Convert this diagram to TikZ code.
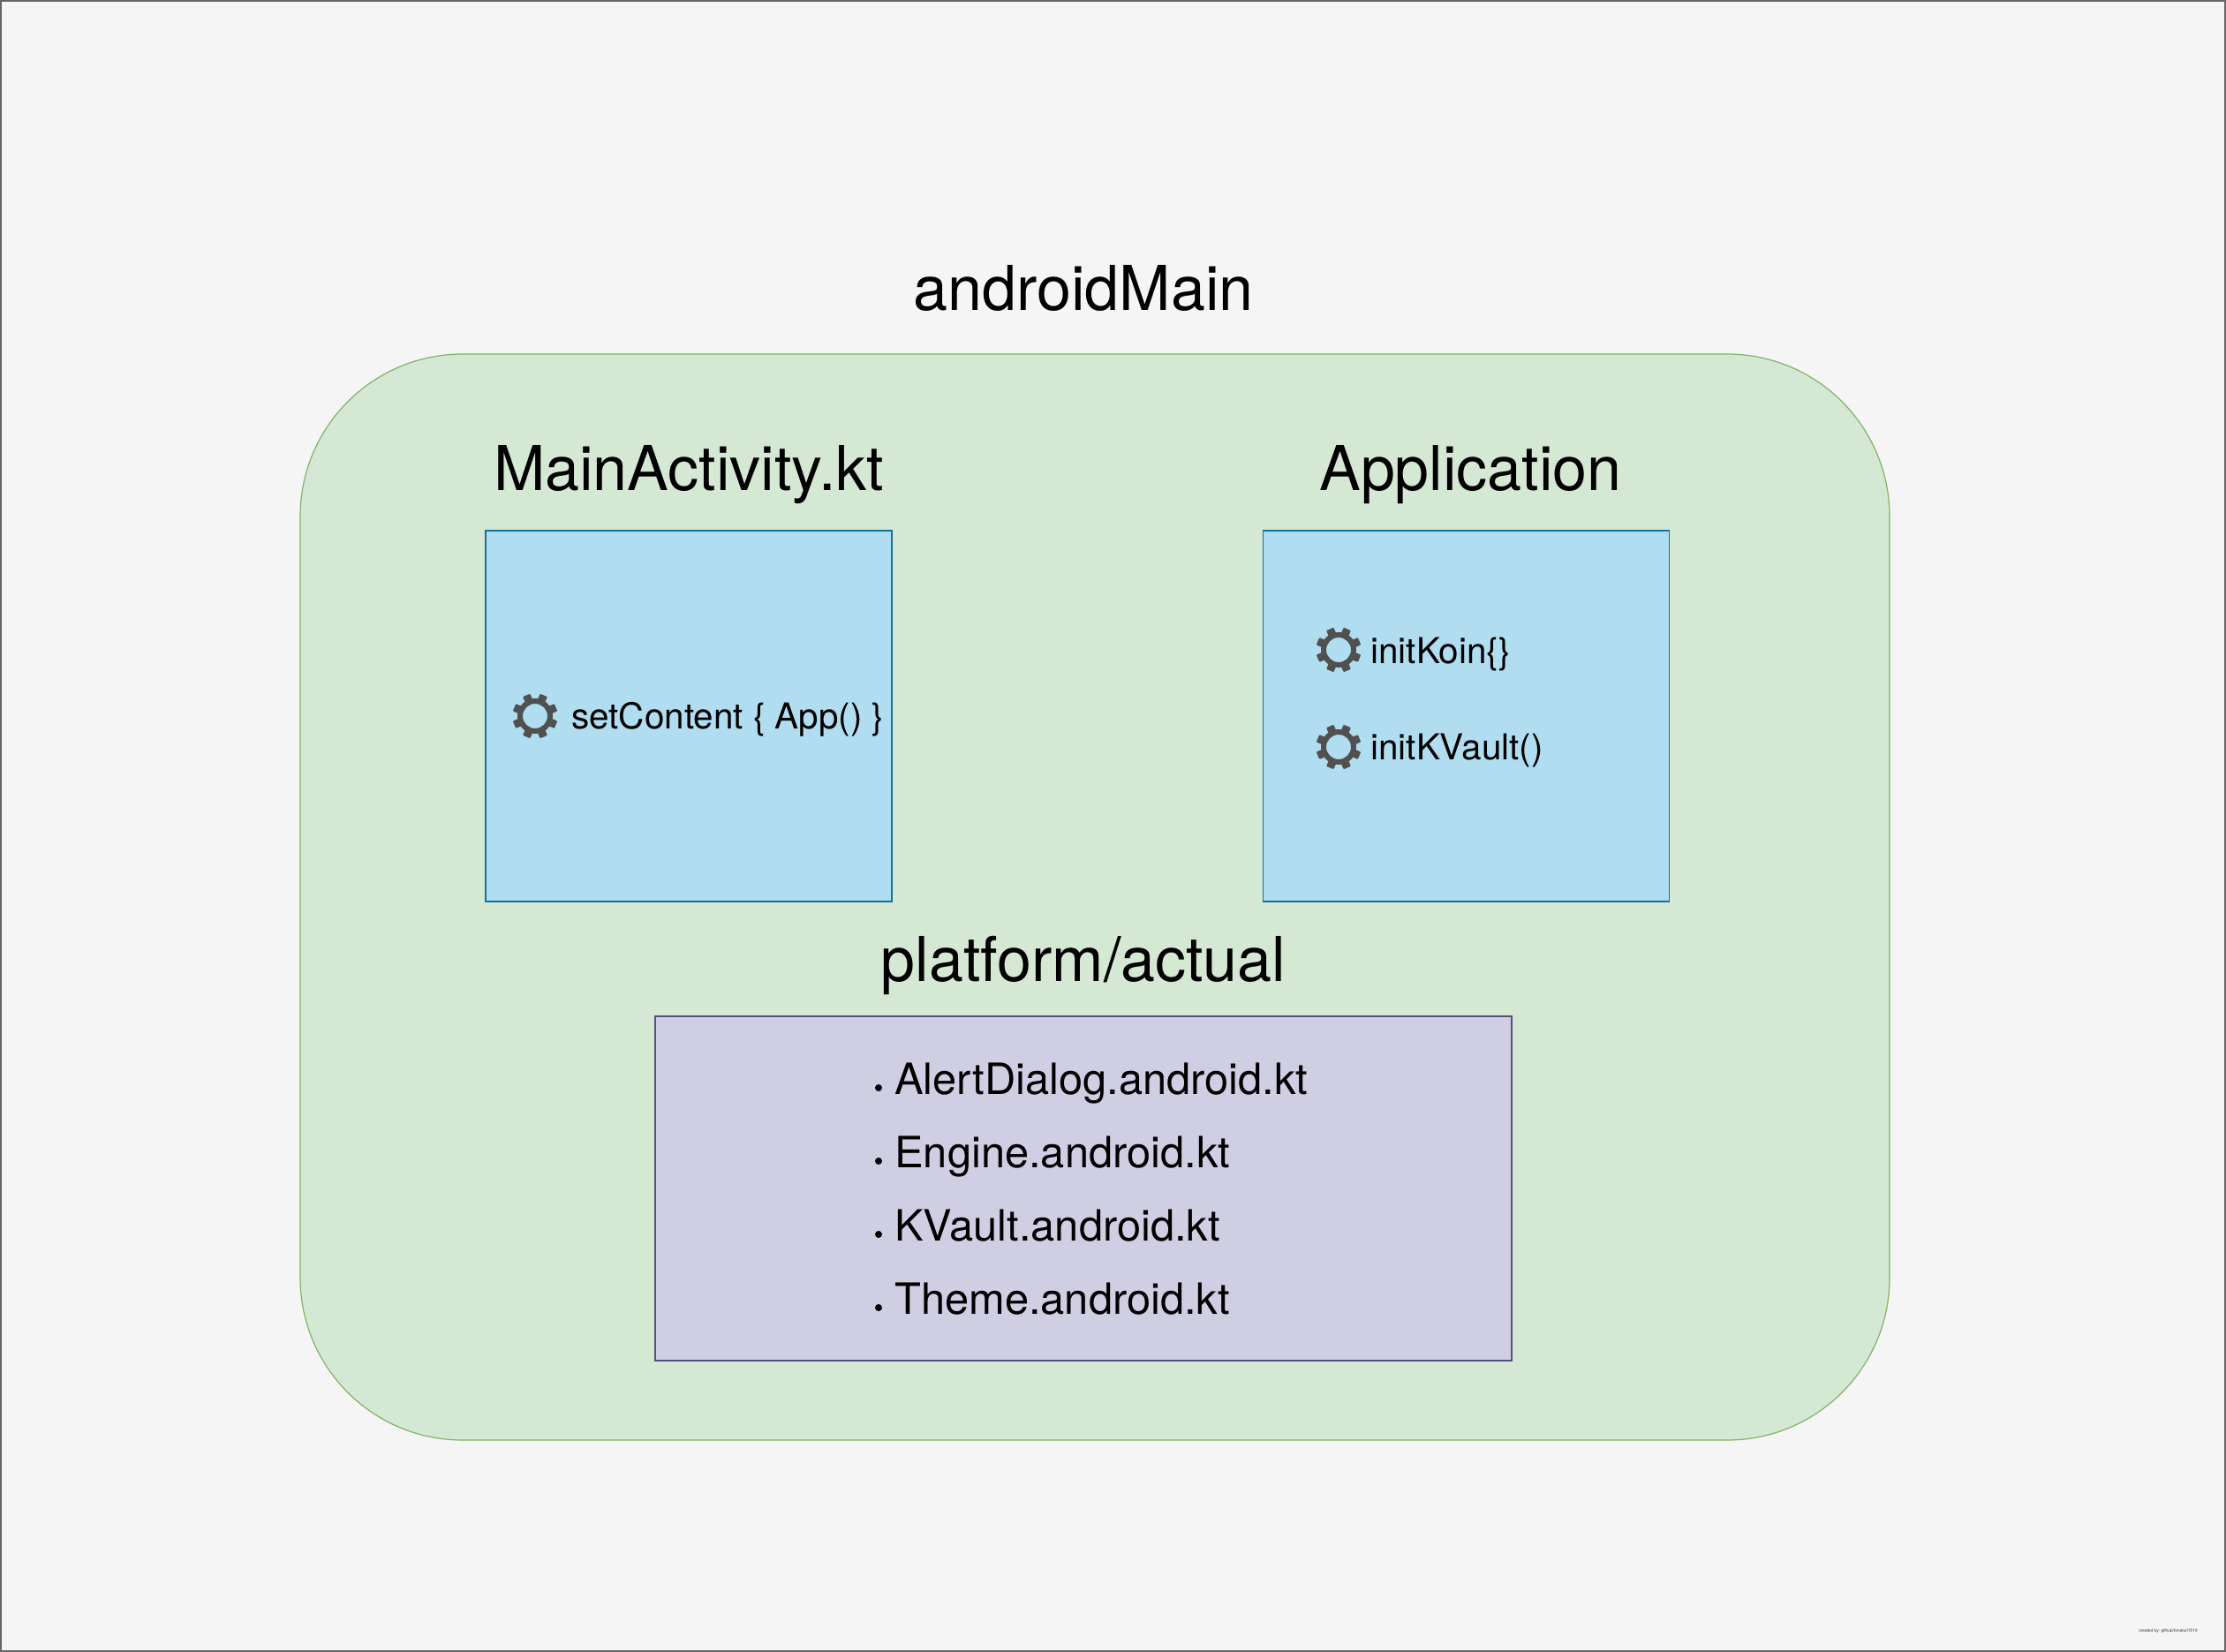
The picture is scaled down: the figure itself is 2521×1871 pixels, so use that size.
\documentclass[tikz,border=0pt]{standalone}
\usepackage{fontspec}
\setmainfont{TeX Gyre Heros}
\usetikzlibrary{positioning}
\definecolor{pagefill}{HTML}{F5F5F5}
\definecolor{pageline}{HTML}{666666}
\definecolor{mainfill}{HTML}{D5E8D4}
\definecolor{mainline}{HTML}{82B366}
\definecolor{classfill}{HTML}{B1DDF0}
\definecolor{classline}{HTML}{10739E}
\definecolor{actualfill}{HTML}{D0CEE2}
\definecolor{actualline}{HTML}{56517E}
\definecolor{gearcolor}{HTML}{505050}
% gear icon at a named coordinate
\newcommand{\gearicon}[1]{
	\begin{scope}[shift={(#1)}]
		\fill[gearcolor,even odd rule] (0,0) circle (20) (0,0) circle (14);
		\foreach \a in {22.5,67.5,...,337.5}
			\fill[gearcolor,rotate=\a,rounded corners=0.5pt] (-4.5,17) rectangle (4.5,25.5);
	\end{scope}
}
\begin{document}
\begin{tikzpicture}[x=0.5pt,y=-0.5pt]
		\tikzstyle{page} = [rectangle, draw=pageline, fill=pagefill, line width=0.8pt, outer sep=0,
		minimum width=1259.7pt, minimum height=934.7pt]
		\tikzstyle{mainbox} = [rectangle, draw=mainline, fill=mainfill, line width=0.6pt, outer sep=0,
		rounded corners=92pt, minimum width=900pt, minimum height=615pt]
		\tikzstyle{classbox} = [rectangle, draw=classline, fill=classfill, line width=0.6pt, outer sep=0,
		minimum width=230pt, minimum height=210pt]
		\tikzstyle{actualbox} = [rectangle, draw=actualline, fill=actualfill, line width=0.6pt, outer sep=0,
		minimum width=485pt, minimum height=195pt]
		\tikzstyle{heading} = [anchor=base, inner sep=0, font=\fontsize{35}{42}\selectfont]
		\tikzstyle{method} = [anchor=base west, inner sep=0, font=\fontsize{20.2}{24}\selectfont]
		\tikzstyle{item} = [anchor=base west, inner sep=0, font=\fontsize{24.4}{30}\selectfont]
		\tikzstyle{dot} = [circle, fill=black, inner sep=0, minimum size=4pt]
		\tikzstyle{credit} = [anchor=base west, inner sep=0, font=\fontsize{2.4}{3}\selectfont, text=black!80]
		
		\useasboundingbox (0,0) rectangle (2521,1871);
		\node [page] (v0) at (1260.5,935.5) {};
		\node [mainbox] (v1) at (1240,1016) {};
		\node [classbox] (v2) at (780,811) {};
		\node [classbox] (v3) at (1660.5,811) {};
		\node [actualbox] (v4) at (1227,1346) {};
		
		\node [heading] (t1) at (1227,352) {androidMain};
		\node [heading] (t2) at (780,556) {MainActivity.kt};
		\node [heading] (t3) at (1665.5,556) {Application};
		\node [heading] (t4) at (1227,1111) {platform/actual};
		
		\coordinate (g1) at (606,811);
		\coordinate (g2) at (1516,736);
		\coordinate (g3) at (1516,846);
		\gearicon{g1}
		\gearicon{g2}
		\gearicon{g3}
		\node [method] (m1) at (647,825) {setContent \{ App() \}};
		\node [method] (m2) at (1552,751) {initKoin\{\}};
		\node [method] (m3) at (1552,860.5) {initKVault()};
		
		\node [dot] (d1) at (995,1232) {};
		\node [dot] (d2) at (995,1315) {};
		\node [dot] (d3) at (995,1398) {};
		\node [dot] (d4) at (995,1481) {};
		\node [item] (i1) at (1013,1239) {AlertDialog.android.kt};
		\node [item] (i2) at (1013,1322) {Engine.android.kt};
		\node [item] (i3) at (1013,1405) {KVault.android.kt};
		\node [item] (i4) at (1013,1488) {Theme.android.kt};
		
		\node [credit] (c1) at (2422,1848) {created by: github/bmaturi1519};
		\end{tikzpicture}
\end{document}
